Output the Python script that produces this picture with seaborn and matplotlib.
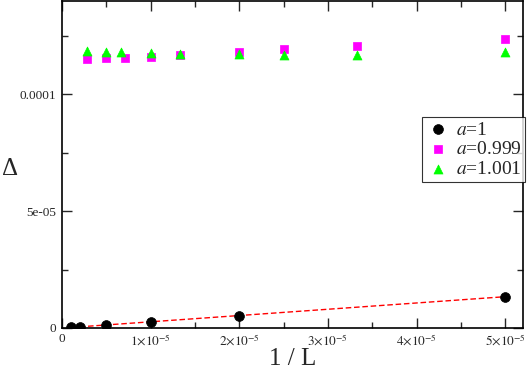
import numpy as np
import pandas as pd
import matplotlib
matplotlib.use("Agg")
import matplotlib.pyplot as plt
import seaborn as sns
from matplotlib.ticker import MultipleLocator, FuncFormatter

# data
x_a1 = [1e-6, 2e-6, 5e-6, 1e-5, 2e-5, 5e-5]
y_a1 = [0.03e-5, 0.05e-5, 0.13e-5, 0.26e-5, 0.53e-5, 1.34e-5]

x_a0999 = [2.86e-6, 5e-6, 7.14e-6, 1e-5, 1.333e-5, 2e-5, 2.5e-5, 3.333e-5, 5e-5]
y_a0999 = [1.150e-4, 1.155e-4, 1.158e-4, 1.159e-4, 1.169e-4, 1.183e-4, 1.193e-4, 1.209e-4, 1.236e-4]

x_a1001 = [2.86e-6, 5e-6, 6.67e-6, 1e-5, 1.333e-5, 2e-5, 2.5e-5, 3.333e-5, 5e-5]
y_a1001 = [1.186e-4, 1.182e-4, 1.180e-4, 1.177e-4, 1.174e-4, 1.172e-4, 1.170e-4, 1.169e-4, 1.182e-4]

fit_x = [2e-6, 5e-5]
fit_y = [0.05e-5, 1.34e-5]

sns.set_style("ticks")
plt.rcParams['font.family'] = ['Liberation Serif', 'DejaVu Serif']
plt.rcParams['mathtext.fontset'] = 'stix'

fig = plt.figure(figsize=(5.28, 3.72), dpi=100)
ax = fig.add_axes([0.1174, 0.1183, 0.8731, 0.879])

sns.lineplot(x=fit_x, y=fit_y, ax=ax, color='red', linestyle=(0, (4, 2)), linewidth=1.0, zorder=1)
sns.scatterplot(x=x_a1, y=y_a1, ax=ax, color='black', marker='o', s=50, edgecolor='black', linewidth=0.5, label='$a$=1', zorder=3)
sns.scatterplot(x=x_a0999, y=y_a0999, ax=ax, color='#FF00FF', marker='s', s=36, edgecolor='#FF00FF', linewidth=0.5, label='$a$=0.999', zorder=3)
sns.scatterplot(x=x_a1001, y=y_a1001, ax=ax, color='#00FF00', marker='^', s=42, edgecolor='#00FF00', linewidth=0.5, label='$a$=1.001', zorder=3)

ax.set_xlim(0, 5.2e-5)
ax.set_ylim(0, 1.4e-4)

ax.xaxis.set_major_locator(MultipleLocator(1e-5))
ax.xaxis.set_minor_locator(MultipleLocator(0.5e-5))
ax.yaxis.set_major_locator(MultipleLocator(5e-5))
ax.yaxis.set_minor_locator(MultipleLocator(2.5e-5))

def xfmt(v, pos):
    n = int(round(v / 1e-5))
    if n == 0:
        return "0"
    return r"$%d{\times}10^{-5}$" % n

def yfmt(v, pos):
    n = int(round(v / 5e-5))
    return {0: "0", 1: "5e-05", 2: "0.0001"}.get(n, "")

ax.xaxis.set_major_formatter(FuncFormatter(xfmt))
ax.yaxis.set_major_formatter(FuncFormatter(yfmt))

ax.tick_params(which='both', direction='in', top=True, right=True, labelsize=9.5, width=1)
ax.tick_params(which='major', length=7)
ax.tick_params(which='minor', length=4)
ax.tick_params(axis='y', pad=4)
for sp in ax.spines.values():
    sp.set_linewidth(1.2)
    sp.set_color('black')

ax.set_xlabel("1 / L", fontsize=18, labelpad=0)
ax.set_ylabel("Δ", fontsize=18, rotation=0, va='center', ha='center')
ax.yaxis.set_label_coords(-0.112, 0.487)

leg = ax.legend(loc='upper right', bbox_to_anchor=(1.005, 0.645), frameon=True, fancybox=False,
                fontsize=14, handletextpad=0.3, borderpad=0.2, labelspacing=0.1,
                handlelength=1.2, borderaxespad=0)
leg.get_frame().set_edgecolor('black')
leg.get_frame().set_linewidth(0.8)

fig.savefig("out.png", dpi=100)
